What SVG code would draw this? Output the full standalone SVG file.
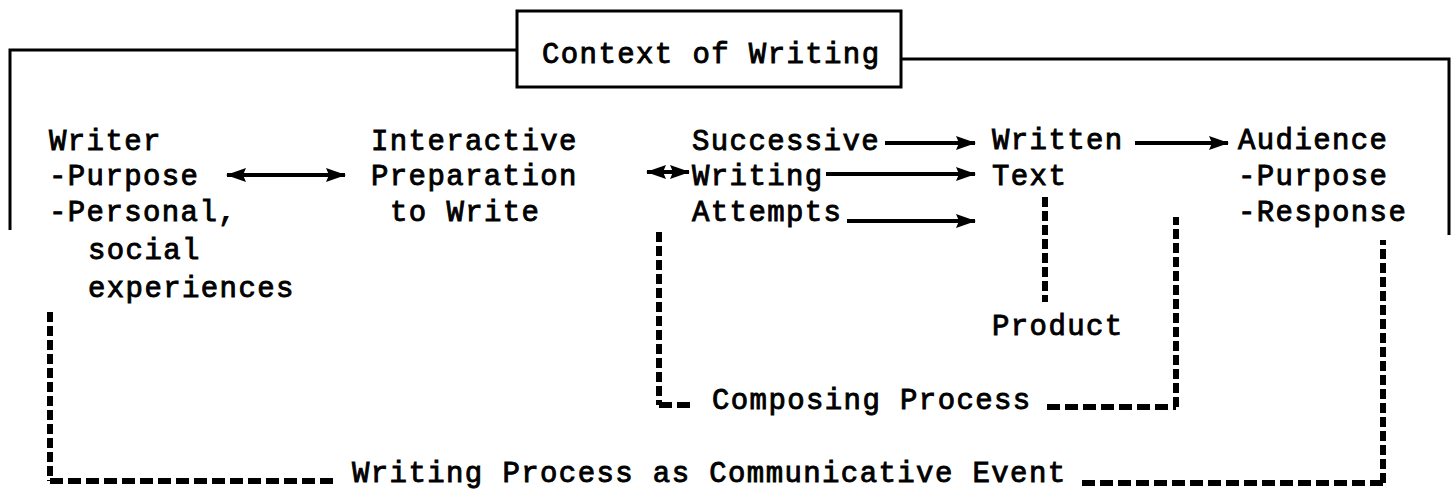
<svg xmlns="http://www.w3.org/2000/svg" width="1455" height="496" viewBox="0 0 1455 496">
<style>
  text { font-family: "Liberation Mono", "DejaVu Sans Mono", monospace; font-size: 29px; letter-spacing: 1.4px; fill: #000; stroke: #000; stroke-width: 0.9px; }
  .solid { fill: none; stroke: #000; stroke-width: 3; }
  .arrow { fill: none; stroke: #000; stroke-width: 4; }
  .dash { fill: none; stroke: #000; stroke-width: 6; stroke-dasharray: 13 5; }
  .dashv { fill: none; stroke: #000; stroke-width: 6; stroke-dasharray: 10 4; }
</style>
<defs>
  <marker id="ah" markerUnits="userSpaceOnUse" markerWidth="20" markerHeight="14" refX="19" refY="7" orient="auto-start-reverse">
    <path d="M0,0 L20,7 L0,14 L3,7 Z" fill="#000"/>
  </marker>
</defs>
<rect width="1455" height="496" fill="#fff"/>

<g id="frame">
  <path class="solid" d="M517,50 H10 V230"/>
  <path class="solid" d="M901,59 H1449 V235"/>
</g>

<g id="context">
  <rect class="solid" x="517" y="11" width="384" height="76"/>
  <text x="542" y="63">Context of Writing</text>
</g>

<g id="writer">
  <text x="49" y="150">Writer</text>
  <text x="49" y="185">-Purpose</text>
  <text x="49" y="221">-Personal,</text>
  <text x="88" y="259">social</text>
  <text x="88" y="297">experiences</text>
</g>

<g id="preparation">
  <text x="371" y="150">Interactive</text>
  <text x="371" y="185">Preparation</text>
  <text x="390" y="221">to Write</text>
</g>

<g id="attempts">
  <text x="692" y="150">Successive</text>
  <text x="692" y="185">Writing</text>
  <text x="692" y="221">Attempts</text>
</g>

<g id="written-text">
  <text x="992" y="149">Written</text>
  <text x="992" y="185">Text</text>
</g>

<g id="audience">
  <text x="1238" y="149">Audience</text>
  <text x="1238" y="185">-Purpose</text>
  <text x="1238" y="221">-Response</text>
</g>

<g id="product">
  <text x="992" y="335">Product</text>
</g>

<g id="composing-process">
  <text x="712" y="409">Composing Process</text>
</g>

<g id="writing-process">
  <text x="352" y="482">Writing Process as Communicative Event</text>
</g>

<g id="connectors">
  <line class="arrow" x1="227" y1="175" x2="345" y2="175" marker-start="url(#ah)" marker-end="url(#ah)"/>
  <line class="arrow" x1="647" y1="172" x2="689" y2="172" marker-start="url(#ah)" marker-end="url(#ah)"/>
  <line class="arrow" x1="885" y1="143" x2="975" y2="143" marker-end="url(#ah)"/>
  <line class="arrow" x1="826" y1="174" x2="975" y2="174" marker-end="url(#ah)"/>
  <line class="arrow" x1="847" y1="221" x2="975" y2="221" marker-end="url(#ah)"/>
  <line class="arrow" x1="1135" y1="143" x2="1228" y2="143" marker-end="url(#ah)"/>

  <path class="dashv" d="M1045,197 V302"/>
  <path class="dashv" d="M659,232 V405"/>
  <path class="dash" d="M659,405 H690"/>
  <path class="dash" d="M1047,407 H1176"/>
  <path class="dashv" d="M1176,407 V217"/>
  <path class="dashv" d="M50,312 V481"/>
  <path class="dash" d="M50,481 H338"/>
  <path class="dash" d="M1082,483 H1383"/>
  <path class="dashv" d="M1383,483 V240"/>
</g>
</svg>
